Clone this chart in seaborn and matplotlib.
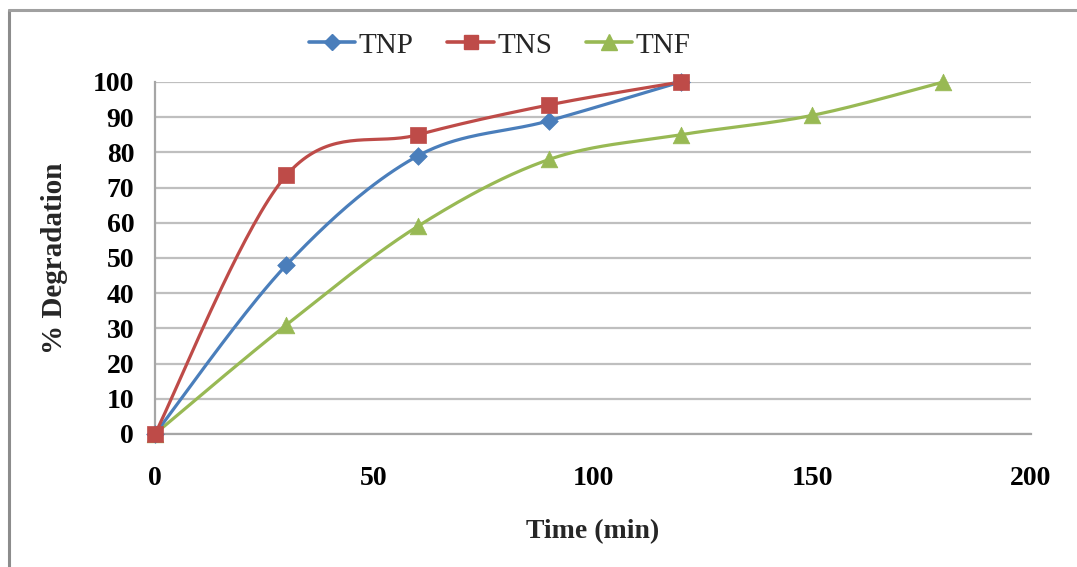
import numpy as np
import pandas as pd
import seaborn as sns
import matplotlib
matplotlib.use("Agg")
import matplotlib.pyplot as plt
from matplotlib.lines import Line2D

# Degradation (%) versus irradiation time (min)
time_tnp = [0, 30, 60, 90, 120]
deg_tnp = [0, 48, 79, 89, 100]
time_tns = [0, 30, 60, 90, 120]
deg_tns = [0, 73.5, 85, 93.5, 100]
time_tnf = [0, 30, 60, 90, 120, 150, 180]
deg_tnf = [0, 31, 59, 78, 85, 90.5, 100]

series_names = ["TNP", "TNS", "TNF"]
x_ticks = [0, 50, 100, 150, 200]
y_ticks = list(range(0, 101, 10))

colors = {"TNP": "#4A7EBB", "TNS": "#BE4B48", "TNF": "#98B954"}
markers = {"TNP": "D", "TNS": "s", "TNF": "^"}
msizes = {"TNP": 9, "TNS": 11, "TNF": 12}


def smooth_curve(x, y, n=40):
    """Cubic Bezier smoothing through the points (spreadsheet-style smoothed line)."""
    p = np.column_stack([x, y]).astype(float)
    pts = np.vstack([p[0], p, p[-1]])
    out = []
    t = np.linspace(0, 1, n)[:, None]
    for i in range(1, len(pts) - 2):
        p0, p1, p2, p3 = pts[i - 1], pts[i], pts[i + 1], pts[i + 2]
        c1 = p1 + (p2 - p0) / 6.0
        c2 = p2 - (p3 - p1) / 6.0
        seg = ((1 - t) ** 3) * p1 + 3 * ((1 - t) ** 2) * t * c1 + 3 * (1 - t) * t ** 2 * c2 + t ** 3 * p2
        out.append(seg if i == 1 else seg[1:])
    seg = np.vstack(out)
    return seg[:, 0], seg[:, 1]


sns.set_theme(style="white")
plt.rcParams["font.family"] = ["Liberation Serif", "DejaVu Serif"]

fig = plt.figure(figsize=(10.77, 5.67), dpi=100)
ax = fig.add_axes([0.1439, 0.2346, 0.8134, 0.6208])

data = {
    "TNP": (time_tnp, deg_tnp),
    "TNS": (time_tns, deg_tns),
    "TNF": (time_tnf, deg_tnf),
}

for name in ["TNF", "TNP", "TNS"]:
    xs, ys = data[name]
    sx, sy = smooth_curve(xs, ys)
    curve = pd.DataFrame({"t": sx, "d": sy})
    sns.lineplot(data=curve, x="t", y="d", sort=False, color=colors[name],
                 lw=2.3, ax=ax, clip_on=False, zorder=3)
    pts = pd.DataFrame({"t": xs, "d": ys})
    sns.scatterplot(data=pts, x="t", y="d", marker=markers[name],
                    s=msizes[name] ** 2, color=colors[name], edgecolor=colors[name],
                    linewidth=0.5, ax=ax, clip_on=False, zorder=4)

ax.set_xlim(0, 200)
ax.set_ylim(0, 100)
ax.set_xticks(x_ticks)
ax.set_yticks(y_ticks)
ax.set_xticklabels([str(v) for v in x_ticks], fontsize=20, fontweight="bold")
ax.set_yticklabels([str(v) for v in y_ticks], fontsize=20, fontweight="bold")

ax.yaxis.grid(True, color="#BFBFBF", lw=1.6)
ax.xaxis.grid(False)
ax.set_axisbelow(True)

for side in ["top", "right"]:
    ax.spines[side].set_visible(False)
for side in ["left", "bottom"]:
    ax.spines[side].set_color("#A6A6A6")
    ax.spines[side].set_linewidth(1.6)

ax.tick_params(axis="both", which="major", direction="out", length=7, width=1.6,
               color="#A6A6A6", labelcolor="black")
ax.tick_params(axis="x", pad=16)
ax.tick_params(axis="y", pad=8)

ax.set_xlabel("Time (min)", fontsize=20, fontweight="bold", labelpad=20)
ax.set_ylabel("% Degradation", fontsize=21, fontweight="bold", labelpad=18)

handles = [Line2D([0], [0], color=colors[n], lw=2.6, marker=markers[n],
                  markersize=msizes[n] * 0.95, markeredgecolor=colors[n])
           for n in series_names]
fig.legend(handles, series_names, loc="center", bbox_to_anchor=(0.464, 0.92),
           ncol=3, frameon=False, fontsize=21, handlelength=1.6,
           handletextpad=0.12, columnspacing=1.15)

# Outer frame on the left and top edges
fig.add_artist(Line2D([0.0088, 0.0088], [0, 0.983], transform=fig.transFigure,
                      color="#8C8C8C", lw=2.2))
fig.add_artist(Line2D([0.0088, 1.0], [0.983, 0.983], transform=fig.transFigure,
                      color="#A0A0A0", lw=2.2))

fig.savefig("out.png", dpi=100)
